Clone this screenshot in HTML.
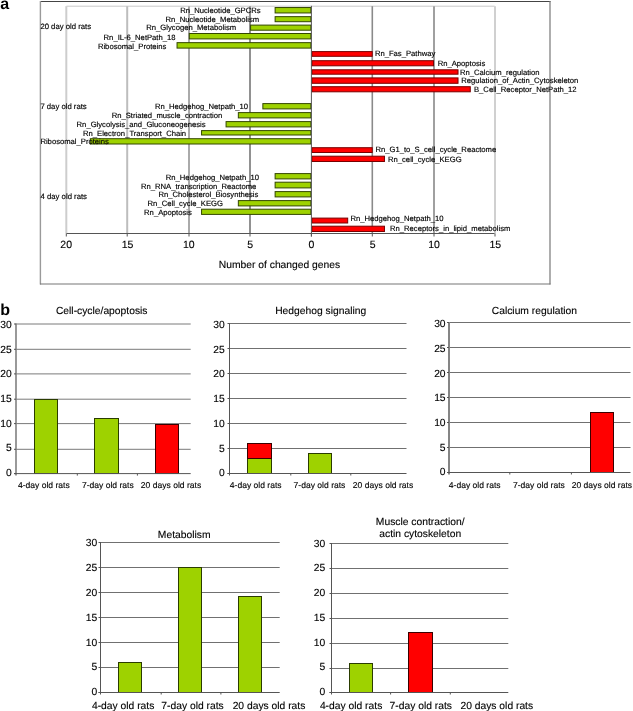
<!DOCTYPE html>
<html><head><meta charset="utf-8"><style>
html,body{margin:0;padding:0;background:#fff;overflow:hidden}
svg{display:block;font-family:"Liberation Sans", sans-serif;will-change:transform;text-rendering:geometricPrecision}
</style></head><body>
<svg width="633" height="711" viewBox="0 0 633 711">
<rect x="0" y="0" width="633" height="711" fill="#fff"/>
<text x="0.30" y="9.10" font-size="16" text-anchor="start" font-weight="bold" fill="#000">a</text>
<line x1="40.00" y1="1.50" x2="550.50" y2="1.50" stroke="#444" stroke-width="1"/>
<line x1="40.40" y1="1.00" x2="40.40" y2="284.50" stroke="#9a9a9a" stroke-width="1.4"/>
<line x1="550.00" y1="1.00" x2="550.00" y2="284.50" stroke="#777" stroke-width="1.2"/>
<line x1="40.00" y1="284.00" x2="550.50" y2="284.00" stroke="#777" stroke-width="1.2"/>
<line x1="66.40" y1="6.20" x2="494.70" y2="6.20" stroke="#c8c8c8" stroke-width="1"/>
<line x1="66.30" y1="6.20" x2="66.30" y2="233.50" stroke="#cdcdcd" stroke-width="2"/>
<line x1="127.20" y1="6.20" x2="127.20" y2="233.50" stroke="#bdbdbd" stroke-width="2"/>
<line x1="189.00" y1="6.20" x2="189.00" y2="233.50" stroke="#aaaaaa" stroke-width="2"/>
<line x1="250.00" y1="6.20" x2="250.00" y2="233.50" stroke="#919191" stroke-width="2"/>
<line x1="372.30" y1="6.20" x2="372.30" y2="233.50" stroke="#8a8a8a" stroke-width="1.6"/>
<line x1="434.00" y1="6.20" x2="434.00" y2="233.50" stroke="#a0a0a0" stroke-width="2"/>
<line x1="495.00" y1="6.20" x2="495.00" y2="233.50" stroke="#d0d0d0" stroke-width="2"/>
<rect x="275.12" y="7.54" width="35.78" height="5.41" fill="#9ed200" stroke="#334600" stroke-width="1"/>
<rect x="275.12" y="16.65" width="35.78" height="5.05" fill="#9ed200" stroke="#334600" stroke-width="1"/>
<rect x="250.60" y="25.10" width="60.30" height="5.10" fill="#9ed200" stroke="#334600" stroke-width="1"/>
<rect x="189.30" y="33.50" width="121.60" height="5.40" fill="#9ed200" stroke="#334600" stroke-width="1"/>
<rect x="177.04" y="42.65" width="133.86" height="5.45" fill="#9ed200" stroke="#334600" stroke-width="1"/>
<rect x="311.90" y="51.60" width="60.30" height="4.70" fill="#ff0000" stroke="#780000" stroke-width="1"/>
<rect x="311.90" y="60.70" width="121.60" height="5.10" fill="#ff0000" stroke="#780000" stroke-width="1"/>
<rect x="311.90" y="69.80" width="146.12" height="4.40" fill="#ff0000" stroke="#780000" stroke-width="1"/>
<rect x="311.90" y="77.90" width="146.12" height="5.40" fill="#ff0000" stroke="#780000" stroke-width="1"/>
<rect x="311.90" y="86.70" width="158.38" height="5.10" fill="#ff0000" stroke="#780000" stroke-width="1"/>
<rect x="262.86" y="103.60" width="48.04" height="5.30" fill="#9ed200" stroke="#334600" stroke-width="1"/>
<rect x="238.34" y="112.60" width="72.56" height="5.30" fill="#9ed200" stroke="#334600" stroke-width="1"/>
<rect x="226.08" y="121.60" width="84.82" height="5.30" fill="#9ed200" stroke="#334600" stroke-width="1"/>
<rect x="201.56" y="130.60" width="109.34" height="4.40" fill="#9ed200" stroke="#334600" stroke-width="1"/>
<rect x="90.30" y="138.70" width="220.60" height="5.30" fill="#9ed200" stroke="#334600" stroke-width="1"/>
<rect x="311.90" y="147.70" width="60.30" height="4.80" fill="#ff0000" stroke="#780000" stroke-width="1"/>
<rect x="311.90" y="156.20" width="72.56" height="5.30" fill="#ff0000" stroke="#780000" stroke-width="1"/>
<rect x="275.12" y="173.60" width="35.78" height="5.30" fill="#9ed200" stroke="#334600" stroke-width="1"/>
<rect x="275.12" y="182.20" width="35.78" height="5.70" fill="#9ed200" stroke="#334600" stroke-width="1"/>
<rect x="275.12" y="191.60" width="35.78" height="5.30" fill="#9ed200" stroke="#334600" stroke-width="1"/>
<rect x="238.34" y="200.60" width="72.56" height="5.30" fill="#9ed200" stroke="#334600" stroke-width="1"/>
<rect x="201.56" y="209.20" width="109.34" height="5.20" fill="#9ed200" stroke="#334600" stroke-width="1"/>
<rect x="311.90" y="218.10" width="35.78" height="4.90" fill="#ff0000" stroke="#780000" stroke-width="1"/>
<rect x="311.90" y="226.20" width="72.56" height="5.30" fill="#ff0000" stroke="#780000" stroke-width="1"/>
<line x1="311.40" y1="5.80" x2="311.40" y2="236.50" stroke="#555" stroke-width="1"/>
<line x1="66.50" y1="233.50" x2="494.50" y2="233.50" stroke="#555" stroke-width="1"/>
<line x1="66.30" y1="233.50" x2="66.30" y2="236.50" stroke="#555" stroke-width="1"/>
<line x1="127.20" y1="233.50" x2="127.20" y2="236.50" stroke="#555" stroke-width="1"/>
<line x1="189.00" y1="233.50" x2="189.00" y2="236.50" stroke="#555" stroke-width="1"/>
<line x1="250.00" y1="233.50" x2="250.00" y2="236.50" stroke="#555" stroke-width="1"/>
<line x1="311.40" y1="233.50" x2="311.40" y2="236.50" stroke="#555" stroke-width="1"/>
<line x1="372.30" y1="233.50" x2="372.30" y2="236.50" stroke="#555" stroke-width="1"/>
<line x1="434.00" y1="233.50" x2="434.00" y2="236.50" stroke="#555" stroke-width="1"/>
<line x1="495.00" y1="233.50" x2="495.00" y2="236.50" stroke="#555" stroke-width="1"/>
<text x="180.20" y="13.20" font-size="7.66" text-anchor="start" font-weight="normal" fill="#000" stroke="#000" stroke-width="0.15">Rn_Nucleotide_GPCRs</text>
<text x="165.60" y="21.66" font-size="7.66" text-anchor="start" font-weight="normal" fill="#000" stroke="#000" stroke-width="0.15">Rn_Nucleotide_Metabolism</text>
<text x="146.30" y="29.71" font-size="7.66" text-anchor="start" font-weight="normal" fill="#000" stroke="#000" stroke-width="0.15">Rn_Glycogen_Metabolism</text>
<text x="103.60" y="40.07" font-size="7.66" text-anchor="start" font-weight="normal" fill="#000" stroke="#000" stroke-width="0.15">Rn_IL-6_NetPath_18</text>
<text x="97.90" y="49.22" font-size="7.66" text-anchor="start" font-weight="normal" fill="#000" stroke="#000" stroke-width="0.15">Ribosomal_Proteins</text>
<text x="374.90" y="56.08" font-size="7.66" text-anchor="start" font-weight="normal" fill="#000" stroke="#000" stroke-width="0.15">Rn_Fas_Pathway</text>
<text x="437.70" y="65.74" font-size="7.66" text-anchor="start" font-weight="normal" fill="#000" stroke="#000" stroke-width="0.15">Rn_Apoptosis</text>
<text x="460.00" y="75.19" font-size="7.66" text-anchor="start" font-weight="normal" fill="#000" stroke="#000" stroke-width="0.15">Rn_Calcium_regulation</text>
<text x="461.30" y="83.25" font-size="7.66" text-anchor="start" font-weight="normal" fill="#000" stroke="#000" stroke-width="0.15">Regulation_of_Actin_Cytoskeleton</text>
<text x="474.00" y="92.20" font-size="7.66" text-anchor="start" font-weight="normal" fill="#000" stroke="#000" stroke-width="0.15">B_Cell_Receptor_NetPath_12</text>
<text x="154.90" y="109.02" font-size="7.66" text-anchor="start" font-weight="normal" fill="#000" stroke="#000" stroke-width="0.15">Rn_Hedgehog_Netpath_10</text>
<text x="111.70" y="118.27" font-size="7.66" text-anchor="start" font-weight="normal" fill="#000" stroke="#000" stroke-width="0.15">Rn_Striated_muscle_contraction</text>
<text x="76.60" y="126.83" font-size="7.66" text-anchor="start" font-weight="normal" fill="#000" stroke="#000" stroke-width="0.15">Rn_Glycolysis_and_Gluconeogenesis</text>
<text x="83.00" y="135.58" font-size="7.66" text-anchor="start" font-weight="normal" fill="#000" stroke="#000" stroke-width="0.15">Rn_Electron_Transport_Chain</text>
<text x="40.40" y="144.34" font-size="7.66" text-anchor="start" font-weight="normal" fill="#000" stroke="#000" stroke-width="0.15">Ribosomal_Proteins</text>
<text x="375.40" y="152.40" font-size="7.66" text-anchor="start" font-weight="normal" fill="#000" stroke="#000" stroke-width="0.15">Rn_G1_to_S_cell_cycle_Reactome</text>
<text x="388.00" y="161.75" font-size="7.66" text-anchor="start" font-weight="normal" fill="#000" stroke="#000" stroke-width="0.15">Rn_cell_cycle_KEGG</text>
<text x="165.80" y="179.56" font-size="7.66" text-anchor="start" font-weight="normal" fill="#000" stroke="#000" stroke-width="0.15">Rn_Hedgehog_Netpath_10</text>
<text x="141.00" y="188.92" font-size="7.66" text-anchor="start" font-weight="normal" fill="#000" stroke="#000" stroke-width="0.15">Rn_RNA_transcription_Reactome</text>
<text x="158.40" y="197.08" font-size="7.66" text-anchor="start" font-weight="normal" fill="#000" stroke="#000" stroke-width="0.15">Rn_Cholesterol_Biosynthesis</text>
<text x="147.60" y="205.83" font-size="7.66" text-anchor="start" font-weight="normal" fill="#000" stroke="#000" stroke-width="0.15">Rn_Cell_cycle_KEGG</text>
<text x="144.10" y="215.19" font-size="7.66" text-anchor="start" font-weight="normal" fill="#000" stroke="#000" stroke-width="0.15">Rn_Apoptosis</text>
<text x="350.40" y="221.34" font-size="7.66" text-anchor="start" font-weight="normal" fill="#000" stroke="#000" stroke-width="0.15">Rn_Hedgehog_Netpath_10</text>
<text x="390.00" y="230.60" font-size="7.66" text-anchor="start" font-weight="normal" fill="#000" stroke="#000" stroke-width="0.15">Rn_Receptors_in_lipid_metabolism</text>
<text x="40.40" y="28.60" font-size="7.72" text-anchor="start" font-weight="normal" fill="#000" stroke="#000" stroke-width="0.15">20 day old rats</text>
<text x="40.40" y="108.80" font-size="7.72" text-anchor="start" font-weight="normal" fill="#000" stroke="#000" stroke-width="0.15">7 day old rats</text>
<text x="40.60" y="198.50" font-size="7.72" text-anchor="start" font-weight="normal" fill="#000" stroke="#000" stroke-width="0.15">4 day old rats</text>
<text x="66.20" y="248.20" font-size="10.5" text-anchor="middle" font-weight="normal" fill="#000" stroke="#000" stroke-width="0.12">20</text>
<text x="127.50" y="248.20" font-size="10.5" text-anchor="middle" font-weight="normal" fill="#000" stroke="#000" stroke-width="0.12">15</text>
<text x="188.80" y="248.20" font-size="10.5" text-anchor="middle" font-weight="normal" fill="#000" stroke="#000" stroke-width="0.12">10</text>
<text x="250.10" y="248.20" font-size="10.5" text-anchor="middle" font-weight="normal" fill="#000" stroke="#000" stroke-width="0.12">5</text>
<text x="311.40" y="248.20" font-size="10.5" text-anchor="middle" font-weight="normal" fill="#000" stroke="#000" stroke-width="0.12">0</text>
<text x="372.70" y="248.20" font-size="10.5" text-anchor="middle" font-weight="normal" fill="#000" stroke="#000" stroke-width="0.12">5</text>
<text x="434.00" y="248.20" font-size="10.5" text-anchor="middle" font-weight="normal" fill="#000" stroke="#000" stroke-width="0.12">10</text>
<text x="495.30" y="248.20" font-size="10.5" text-anchor="middle" font-weight="normal" fill="#000" stroke="#000" stroke-width="0.12">15</text>
<text x="279.50" y="268.20" font-size="10.3" text-anchor="middle" font-weight="normal" fill="#000" stroke="#000" stroke-width="0.12">Number of changed genes</text>
<text x="0.20" y="314.60" font-size="16" text-anchor="start" font-weight="bold" fill="#000">b</text>
<line x1="16.00" y1="449.30" x2="190.70" y2="449.30" stroke="#7a7a7a" stroke-width="1"/>
<line x1="16.00" y1="423.60" x2="190.70" y2="423.60" stroke="#7a7a7a" stroke-width="1"/>
<line x1="16.00" y1="399.20" x2="190.70" y2="399.20" stroke="#7a7a7a" stroke-width="1"/>
<line x1="16.00" y1="373.90" x2="190.70" y2="373.90" stroke="#7a7a7a" stroke-width="1"/>
<line x1="16.00" y1="349.30" x2="190.70" y2="349.30" stroke="#7a7a7a" stroke-width="1"/>
<line x1="16.00" y1="324.00" x2="190.70" y2="324.00" stroke="#7a7a7a" stroke-width="1"/>
<rect x="34.50" y="399.50" width="23.00" height="74.00" fill="#9ed200" stroke="#2a3c00" stroke-width="1"/>
<rect x="94.50" y="418.50" width="24.00" height="55.00" fill="#9ed200" stroke="#2a3c00" stroke-width="1"/>
<rect x="155.50" y="424.50" width="23.00" height="49.00" fill="#ff0000" stroke="#3a0000" stroke-width="1"/>
<line x1="16.00" y1="323.50" x2="16.00" y2="475.60" stroke="#808080" stroke-width="1.6"/>
<line x1="14.00" y1="473.60" x2="190.70" y2="473.60" stroke="#555" stroke-width="1"/>
<line x1="14.00" y1="473.60" x2="16.00" y2="473.60" stroke="#555" stroke-width="1"/>
<line x1="14.00" y1="449.30" x2="16.00" y2="449.30" stroke="#555" stroke-width="1"/>
<line x1="14.00" y1="423.60" x2="16.00" y2="423.60" stroke="#555" stroke-width="1"/>
<line x1="14.00" y1="399.20" x2="16.00" y2="399.20" stroke="#555" stroke-width="1"/>
<line x1="14.00" y1="373.90" x2="16.00" y2="373.90" stroke="#555" stroke-width="1"/>
<line x1="14.00" y1="349.30" x2="16.00" y2="349.30" stroke="#555" stroke-width="1"/>
<line x1="14.00" y1="324.00" x2="16.00" y2="324.00" stroke="#555" stroke-width="1"/>
<line x1="77.30" y1="473.60" x2="77.30" y2="475.60" stroke="#555" stroke-width="1"/>
<line x1="137.40" y1="473.60" x2="137.40" y2="475.60" stroke="#555" stroke-width="1"/>
<text x="11.80" y="476.20" font-size="10.3" text-anchor="end" font-weight="normal" fill="#000" stroke="#000" stroke-width="0.12">0</text>
<text x="11.80" y="451.48" font-size="10.3" text-anchor="end" font-weight="normal" fill="#000" stroke="#000" stroke-width="0.12">5</text>
<text x="11.80" y="426.77" font-size="10.3" text-anchor="end" font-weight="normal" fill="#000" stroke="#000" stroke-width="0.12">10</text>
<text x="11.80" y="402.05" font-size="10.3" text-anchor="end" font-weight="normal" fill="#000" stroke="#000" stroke-width="0.12">15</text>
<text x="11.80" y="377.33" font-size="10.3" text-anchor="end" font-weight="normal" fill="#000" stroke="#000" stroke-width="0.12">20</text>
<text x="11.80" y="352.62" font-size="10.3" text-anchor="end" font-weight="normal" fill="#000" stroke="#000" stroke-width="0.12">25</text>
<text x="11.80" y="327.90" font-size="10.3" text-anchor="end" font-weight="normal" fill="#000" stroke="#000" stroke-width="0.12">30</text>
<text x="43.80" y="487.60" font-size="8.55" text-anchor="middle" font-weight="normal" fill="#000" stroke="#000" stroke-width="0.12">4-day old rats</text>
<text x="107.80" y="487.60" font-size="8.55" text-anchor="middle" font-weight="normal" fill="#000" stroke="#000" stroke-width="0.12">7-day old rats</text>
<text x="171.00" y="487.60" font-size="8.55" text-anchor="middle" font-weight="normal" fill="#000" stroke="#000" stroke-width="0.12">20 days old rats</text>
<text x="101.70" y="313.70" font-size="10.3" text-anchor="middle" font-weight="normal" fill="#000" stroke="#000" stroke-width="0.12">Cell-cycle/apoptosis</text>
<line x1="229.50" y1="448.50" x2="406.50" y2="448.50" stroke="#707070" stroke-width="1"/>
<line x1="229.50" y1="423.50" x2="406.50" y2="423.50" stroke="#707070" stroke-width="1"/>
<line x1="229.50" y1="398.50" x2="406.50" y2="398.50" stroke="#707070" stroke-width="1"/>
<line x1="229.50" y1="373.50" x2="406.50" y2="373.50" stroke="#707070" stroke-width="1"/>
<line x1="229.50" y1="348.50" x2="406.50" y2="348.50" stroke="#707070" stroke-width="1"/>
<line x1="229.50" y1="323.50" x2="406.50" y2="323.50" stroke="#707070" stroke-width="1"/>
<rect x="247.50" y="458.50" width="24.00" height="15.00" fill="#9ed200" stroke="#2a3c00" stroke-width="1"/>
<rect x="247.50" y="443.50" width="24.00" height="15.00" fill="#ff0000" stroke="#3a0000" stroke-width="1"/>
<rect x="308.50" y="453.50" width="23.00" height="20.00" fill="#9ed200" stroke="#2a3c00" stroke-width="1"/>
<line x1="229.50" y1="323.00" x2="229.50" y2="475.50" stroke="#555" stroke-width="1"/>
<line x1="227.50" y1="473.50" x2="406.50" y2="473.50" stroke="#555" stroke-width="1"/>
<line x1="227.50" y1="473.50" x2="229.50" y2="473.50" stroke="#555" stroke-width="1"/>
<line x1="227.50" y1="448.50" x2="229.50" y2="448.50" stroke="#555" stroke-width="1"/>
<line x1="227.50" y1="423.50" x2="229.50" y2="423.50" stroke="#555" stroke-width="1"/>
<line x1="227.50" y1="398.50" x2="229.50" y2="398.50" stroke="#555" stroke-width="1"/>
<line x1="227.50" y1="373.50" x2="229.50" y2="373.50" stroke="#555" stroke-width="1"/>
<line x1="227.50" y1="348.50" x2="229.50" y2="348.50" stroke="#555" stroke-width="1"/>
<line x1="227.50" y1="323.50" x2="229.50" y2="323.50" stroke="#555" stroke-width="1"/>
<line x1="290.80" y1="473.50" x2="290.80" y2="475.50" stroke="#555" stroke-width="1"/>
<line x1="350.80" y1="473.50" x2="350.80" y2="475.50" stroke="#555" stroke-width="1"/>
<text x="224.80" y="476.40" font-size="10.3" text-anchor="end" font-weight="normal" fill="#000" stroke="#000" stroke-width="0.12">0</text>
<text x="224.80" y="451.63" font-size="10.3" text-anchor="end" font-weight="normal" fill="#000" stroke="#000" stroke-width="0.12">5</text>
<text x="224.80" y="426.87" font-size="10.3" text-anchor="end" font-weight="normal" fill="#000" stroke="#000" stroke-width="0.12">10</text>
<text x="224.80" y="402.10" font-size="10.3" text-anchor="end" font-weight="normal" fill="#000" stroke="#000" stroke-width="0.12">15</text>
<text x="224.80" y="377.33" font-size="10.3" text-anchor="end" font-weight="normal" fill="#000" stroke="#000" stroke-width="0.12">20</text>
<text x="224.80" y="352.57" font-size="10.3" text-anchor="end" font-weight="normal" fill="#000" stroke="#000" stroke-width="0.12">25</text>
<text x="224.80" y="327.80" font-size="10.3" text-anchor="end" font-weight="normal" fill="#000" stroke="#000" stroke-width="0.12">30</text>
<text x="255.70" y="487.60" font-size="8.55" text-anchor="middle" font-weight="normal" fill="#000" stroke="#000" stroke-width="0.12">4-day old rats</text>
<text x="319.50" y="487.60" font-size="8.55" text-anchor="middle" font-weight="normal" fill="#000" stroke="#000" stroke-width="0.12">7-day old rats</text>
<text x="383.00" y="487.60" font-size="8.55" text-anchor="middle" font-weight="normal" fill="#000" stroke="#000" stroke-width="0.12">20 days old rats</text>
<text x="320.70" y="313.70" font-size="10.3" text-anchor="middle" font-weight="normal" fill="#000" stroke="#000" stroke-width="0.12">Hedgehog signaling</text>
<line x1="449.00" y1="447.50" x2="630.50" y2="447.50" stroke="#707070" stroke-width="1"/>
<line x1="449.00" y1="422.50" x2="630.50" y2="422.50" stroke="#707070" stroke-width="1"/>
<line x1="449.00" y1="397.50" x2="630.50" y2="397.50" stroke="#707070" stroke-width="1"/>
<line x1="449.00" y1="372.50" x2="630.50" y2="372.50" stroke="#707070" stroke-width="1"/>
<line x1="449.00" y1="347.50" x2="630.50" y2="347.50" stroke="#707070" stroke-width="1"/>
<line x1="449.00" y1="322.50" x2="630.50" y2="322.50" stroke="#707070" stroke-width="1"/>
<rect x="590.50" y="412.50" width="23.00" height="60.00" fill="#ff0000" stroke="#3a0000" stroke-width="1"/>
<line x1="449.00" y1="322.00" x2="449.00" y2="474.50" stroke="#858585" stroke-width="2"/>
<line x1="447.00" y1="472.50" x2="630.50" y2="472.50" stroke="#555" stroke-width="1"/>
<line x1="447.00" y1="472.50" x2="449.00" y2="472.50" stroke="#555" stroke-width="1"/>
<line x1="447.00" y1="447.50" x2="449.00" y2="447.50" stroke="#555" stroke-width="1"/>
<line x1="447.00" y1="422.50" x2="449.00" y2="422.50" stroke="#555" stroke-width="1"/>
<line x1="447.00" y1="397.50" x2="449.00" y2="397.50" stroke="#555" stroke-width="1"/>
<line x1="447.00" y1="372.50" x2="449.00" y2="372.50" stroke="#555" stroke-width="1"/>
<line x1="447.00" y1="347.50" x2="449.00" y2="347.50" stroke="#555" stroke-width="1"/>
<line x1="447.00" y1="322.50" x2="449.00" y2="322.50" stroke="#555" stroke-width="1"/>
<line x1="509.80" y1="472.50" x2="509.80" y2="474.50" stroke="#555" stroke-width="1"/>
<line x1="571.40" y1="472.50" x2="571.40" y2="474.50" stroke="#555" stroke-width="1"/>
<text x="445.60" y="475.40" font-size="10.3" text-anchor="end" font-weight="normal" fill="#000" stroke="#000" stroke-width="0.12">0</text>
<text x="445.60" y="450.72" font-size="10.3" text-anchor="end" font-weight="normal" fill="#000" stroke="#000" stroke-width="0.12">5</text>
<text x="445.60" y="426.03" font-size="10.3" text-anchor="end" font-weight="normal" fill="#000" stroke="#000" stroke-width="0.12">10</text>
<text x="445.60" y="401.35" font-size="10.3" text-anchor="end" font-weight="normal" fill="#000" stroke="#000" stroke-width="0.12">15</text>
<text x="445.60" y="376.67" font-size="10.3" text-anchor="end" font-weight="normal" fill="#000" stroke="#000" stroke-width="0.12">20</text>
<text x="445.60" y="351.98" font-size="10.3" text-anchor="end" font-weight="normal" fill="#000" stroke="#000" stroke-width="0.12">25</text>
<text x="445.60" y="327.30" font-size="10.3" text-anchor="end" font-weight="normal" fill="#000" stroke="#000" stroke-width="0.12">30</text>
<text x="474.70" y="487.60" font-size="8.55" text-anchor="middle" font-weight="normal" fill="#000" stroke="#000" stroke-width="0.12">4-day old rats</text>
<text x="538.90" y="487.60" font-size="8.55" text-anchor="middle" font-weight="normal" fill="#000" stroke="#000" stroke-width="0.12">7-day old rats</text>
<text x="601.90" y="487.60" font-size="8.55" text-anchor="middle" font-weight="normal" fill="#000" stroke="#000" stroke-width="0.12">20 days old rats</text>
<text x="534.40" y="313.70" font-size="10.3" text-anchor="middle" font-weight="normal" fill="#000" stroke="#000" stroke-width="0.12">Calcium regulation</text>
<line x1="100.50" y1="667.50" x2="279.70" y2="667.50" stroke="#707070" stroke-width="1"/>
<line x1="100.50" y1="642.50" x2="279.70" y2="642.50" stroke="#707070" stroke-width="1"/>
<line x1="100.50" y1="617.50" x2="279.70" y2="617.50" stroke="#707070" stroke-width="1"/>
<line x1="100.50" y1="592.50" x2="279.70" y2="592.50" stroke="#707070" stroke-width="1"/>
<line x1="100.50" y1="567.50" x2="279.70" y2="567.50" stroke="#707070" stroke-width="1"/>
<line x1="100.50" y1="542.50" x2="279.70" y2="542.50" stroke="#707070" stroke-width="1"/>
<rect x="118.50" y="662.50" width="23.00" height="30.00" fill="#9ed200" stroke="#2a3c00" stroke-width="1"/>
<rect x="178.50" y="567.50" width="23.00" height="125.00" fill="#9ed200" stroke="#2a3c00" stroke-width="1"/>
<rect x="238.50" y="596.50" width="23.00" height="96.00" fill="#9ed200" stroke="#2a3c00" stroke-width="1"/>
<line x1="100.50" y1="542.00" x2="100.50" y2="694.50" stroke="#555" stroke-width="1"/>
<line x1="98.50" y1="692.50" x2="279.70" y2="692.50" stroke="#555" stroke-width="1"/>
<line x1="98.50" y1="692.50" x2="100.50" y2="692.50" stroke="#555" stroke-width="1"/>
<line x1="98.50" y1="667.50" x2="100.50" y2="667.50" stroke="#555" stroke-width="1"/>
<line x1="98.50" y1="642.50" x2="100.50" y2="642.50" stroke="#555" stroke-width="1"/>
<line x1="98.50" y1="617.50" x2="100.50" y2="617.50" stroke="#555" stroke-width="1"/>
<line x1="98.50" y1="592.50" x2="100.50" y2="592.50" stroke="#555" stroke-width="1"/>
<line x1="98.50" y1="567.50" x2="100.50" y2="567.50" stroke="#555" stroke-width="1"/>
<line x1="98.50" y1="542.50" x2="100.50" y2="542.50" stroke="#555" stroke-width="1"/>
<line x1="161.20" y1="692.50" x2="161.20" y2="694.50" stroke="#555" stroke-width="1"/>
<line x1="220.90" y1="692.50" x2="220.90" y2="694.50" stroke="#555" stroke-width="1"/>
<text x="97.20" y="695.10" font-size="10.3" text-anchor="end" font-weight="normal" fill="#000" stroke="#000" stroke-width="0.12">0</text>
<text x="97.20" y="670.30" font-size="10.3" text-anchor="end" font-weight="normal" fill="#000" stroke="#000" stroke-width="0.12">5</text>
<text x="97.20" y="645.50" font-size="10.3" text-anchor="end" font-weight="normal" fill="#000" stroke="#000" stroke-width="0.12">10</text>
<text x="97.20" y="620.70" font-size="10.3" text-anchor="end" font-weight="normal" fill="#000" stroke="#000" stroke-width="0.12">15</text>
<text x="97.20" y="595.90" font-size="10.3" text-anchor="end" font-weight="normal" fill="#000" stroke="#000" stroke-width="0.12">20</text>
<text x="97.20" y="571.10" font-size="10.3" text-anchor="end" font-weight="normal" fill="#000" stroke="#000" stroke-width="0.12">25</text>
<text x="97.20" y="546.30" font-size="10.3" text-anchor="end" font-weight="normal" fill="#000" stroke="#000" stroke-width="0.12">30</text>
<text x="123.15" y="708.70" font-size="10.3" text-anchor="middle" font-weight="normal" fill="#000" stroke="#000" stroke-width="0.12">4-day old rats</text>
<text x="192.55" y="708.70" font-size="10.3" text-anchor="middle" font-weight="normal" fill="#000" stroke="#000" stroke-width="0.12">7-day old rats</text>
<text x="269.00" y="708.70" font-size="10.3" text-anchor="middle" font-weight="normal" fill="#000" stroke="#000" stroke-width="0.12">20 days old rats</text>
<text x="184.20" y="537.60" font-size="10.3" text-anchor="middle" font-weight="normal" fill="#000" stroke="#000" stroke-width="0.12">Metabolism</text>
<line x1="331.50" y1="668.50" x2="508.30" y2="668.50" stroke="#707070" stroke-width="1"/>
<line x1="331.50" y1="643.50" x2="508.30" y2="643.50" stroke="#707070" stroke-width="1"/>
<line x1="331.50" y1="618.50" x2="508.30" y2="618.50" stroke="#707070" stroke-width="1"/>
<line x1="331.50" y1="593.50" x2="508.30" y2="593.50" stroke="#707070" stroke-width="1"/>
<line x1="331.50" y1="568.50" x2="508.30" y2="568.50" stroke="#707070" stroke-width="1"/>
<line x1="331.50" y1="543.50" x2="508.30" y2="543.50" stroke="#707070" stroke-width="1"/>
<rect x="349.50" y="663.50" width="23.00" height="29.00" fill="#9ed200" stroke="#2a3c00" stroke-width="1"/>
<rect x="408.50" y="632.50" width="24.00" height="60.00" fill="#ff0000" stroke="#3a0000" stroke-width="1"/>
<line x1="331.50" y1="543.00" x2="331.50" y2="694.50" stroke="#555" stroke-width="1"/>
<line x1="329.50" y1="692.50" x2="508.30" y2="692.50" stroke="#555" stroke-width="1"/>
<line x1="329.50" y1="692.50" x2="331.50" y2="692.50" stroke="#555" stroke-width="1"/>
<line x1="329.50" y1="668.50" x2="331.50" y2="668.50" stroke="#555" stroke-width="1"/>
<line x1="329.50" y1="643.50" x2="331.50" y2="643.50" stroke="#555" stroke-width="1"/>
<line x1="329.50" y1="618.50" x2="331.50" y2="618.50" stroke="#555" stroke-width="1"/>
<line x1="329.50" y1="593.50" x2="331.50" y2="593.50" stroke="#555" stroke-width="1"/>
<line x1="329.50" y1="568.50" x2="331.50" y2="568.50" stroke="#555" stroke-width="1"/>
<line x1="329.50" y1="543.50" x2="331.50" y2="543.50" stroke="#555" stroke-width="1"/>
<line x1="390.60" y1="692.50" x2="390.60" y2="694.50" stroke="#555" stroke-width="1"/>
<line x1="450.30" y1="692.50" x2="450.30" y2="694.50" stroke="#555" stroke-width="1"/>
<text x="325.30" y="695.10" font-size="10.3" text-anchor="end" font-weight="normal" fill="#000" stroke="#000" stroke-width="0.12">0</text>
<text x="325.30" y="670.33" font-size="10.3" text-anchor="end" font-weight="normal" fill="#000" stroke="#000" stroke-width="0.12">5</text>
<text x="325.30" y="645.57" font-size="10.3" text-anchor="end" font-weight="normal" fill="#000" stroke="#000" stroke-width="0.12">10</text>
<text x="325.30" y="620.80" font-size="10.3" text-anchor="end" font-weight="normal" fill="#000" stroke="#000" stroke-width="0.12">15</text>
<text x="325.30" y="596.03" font-size="10.3" text-anchor="end" font-weight="normal" fill="#000" stroke="#000" stroke-width="0.12">20</text>
<text x="325.30" y="571.27" font-size="10.3" text-anchor="end" font-weight="normal" fill="#000" stroke="#000" stroke-width="0.12">25</text>
<text x="325.30" y="546.50" font-size="10.3" text-anchor="end" font-weight="normal" fill="#000" stroke="#000" stroke-width="0.12">30</text>
<text x="351.10" y="708.70" font-size="10.3" text-anchor="middle" font-weight="normal" fill="#000" stroke="#000" stroke-width="0.12">4-day old rats</text>
<text x="420.80" y="708.70" font-size="10.3" text-anchor="middle" font-weight="normal" fill="#000" stroke="#000" stroke-width="0.12">7-day old rats</text>
<text x="496.80" y="708.70" font-size="10.3" text-anchor="middle" font-weight="normal" fill="#000" stroke="#000" stroke-width="0.12">20 days old rats</text>
<text x="420.20" y="524.70" font-size="10.3" text-anchor="middle" font-weight="normal" fill="#000" stroke="#000" stroke-width="0.12">Muscle contraction/</text>
<text x="420.20" y="537.00" font-size="10.3" text-anchor="middle" font-weight="normal" fill="#000" stroke="#000" stroke-width="0.12">actin cytoskeleton</text>
</svg>
</body></html>
